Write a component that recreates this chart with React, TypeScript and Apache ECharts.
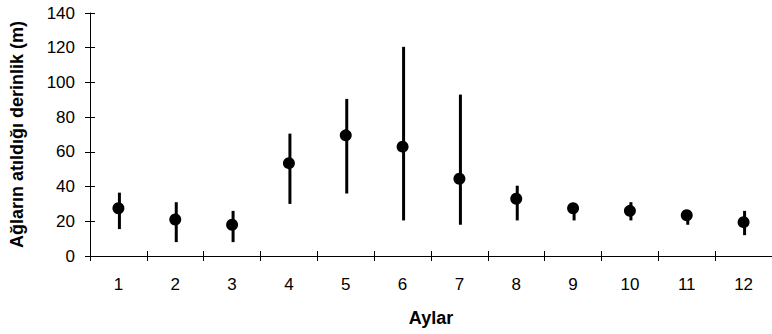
import React, { useEffect, useRef } from "react";
import * as echarts from "echarts";

const months = ["1", "2", "3", "4", "5", "6", "7", "8", "9", "10", "11", "12"];
const meanDepth = [27.5, 21, 18, 53.5, 69.5, 63, 44.5, 33, 27.5, 26, 23.5, 19.5];
const minDepth = [15.5, 8, 8, 30, 36, 20.5, 18, 20.5, 20.5, 20.5, 18, 12];
const maxDepth = [36.5, 31, 26, 70.5, 90.5, 120.5, 93, 40.5, 29, 31, 23.5, 26];

const FONT = "'Liberation Sans', Arial, sans-serif";

export default function App() {
  const ref = useRef<HTMLDivElement>(null);
  useEffect(() => {
    const chart = echarts.init(ref.current!, null, { renderer: "svg" });
    const axisLine = { show: true, lineStyle: { color: "#000", width: 1 } };
    chart.setOption({
      animation: false,
      backgroundColor: "#fff",
      grid: { left: 88, right: -6, top: 13, bottom: 78 },
      xAxis: [
        {
          type: "category",
          data: months,
          boundaryGap: true,
          axisLine,
          axisTick: { show: true, length: 5, lineStyle: { color: "#000" } },
          axisLabel: { color: "#000", fontSize: 17, fontFamily: FONT, margin: 20 },
          splitLine: { show: false },
          name: "Aylar",
          nameLocation: "middle",
          nameGap: 53,
          nameTextStyle: { color: "#000", fontSize: 18, fontWeight: "bold", fontFamily: FONT },
        },
        {
          type: "category",
          data: months,
          position: "bottom",
          boundaryGap: true,
          axisLine: { show: false },
          axisTick: { show: true, inside: true, length: 5, lineStyle: { color: "#000" } },
          axisLabel: { show: false },
          splitLine: { show: false },
        },
      ],
      yAxis: [
        {
          type: "value",
          min: 0,
          max: 140,
          interval: 20,
          axisLine,
          axisTick: { show: true, length: 5, lineStyle: { color: "#000" } },
          axisLabel: { color: "#000", fontSize: 17, fontFamily: FONT, margin: 15 },
          splitLine: { show: false },
          name: "Ağların atıldığı derinlik (m)",
          nameLocation: "middle",
          nameGap: 64,
          nameTextStyle: { color: "#000", fontSize: 18, fontWeight: "bold", fontFamily: FONT },
        },
        {
          type: "value",
          min: 0,
          max: 140,
          interval: 20,
          position: "left",
          axisLine: { show: false },
          axisTick: { show: true, inside: true, length: 5, lineStyle: { color: "#000" } },
          axisLabel: { show: false },
          splitLine: { show: false },
        },
      ],
      series: [
        {
          type: "custom",
          xAxisIndex: 0,
          yAxisIndex: 0,
          data: months.map((m, i) => [i, minDepth[i], maxDepth[i]]),
          renderItem: (params: any, api: any) => {
            const lo = api.coord([api.value(0), api.value(1)]);
            const hi = api.coord([api.value(0), api.value(2)]);
            return {
              type: "line",
              shape: { x1: lo[0] + 1, y1: lo[1], x2: hi[0] + 1, y2: hi[1] },
              style: { stroke: "#000", lineWidth: 3 },
            };
          },
          encode: { x: 0, y: [1, 2] },
          z: 2,
        },
        {
          type: "scatter",
          xAxisIndex: 0,
          yAxisIndex: 0,
          data: meanDepth,
          symbol: "circle",
          symbolSize: 12,
          itemStyle: { color: "#000", opacity: 1 },
          z: 3,
        },
      ],
    });
    return () => chart.dispose();
  }, []);
  return (
    <div
      ref={ref}
      style={{ position: "absolute", left: 0, top: 0, width: 772, height: 334, overflow: "hidden" }}
    />
  );
}
